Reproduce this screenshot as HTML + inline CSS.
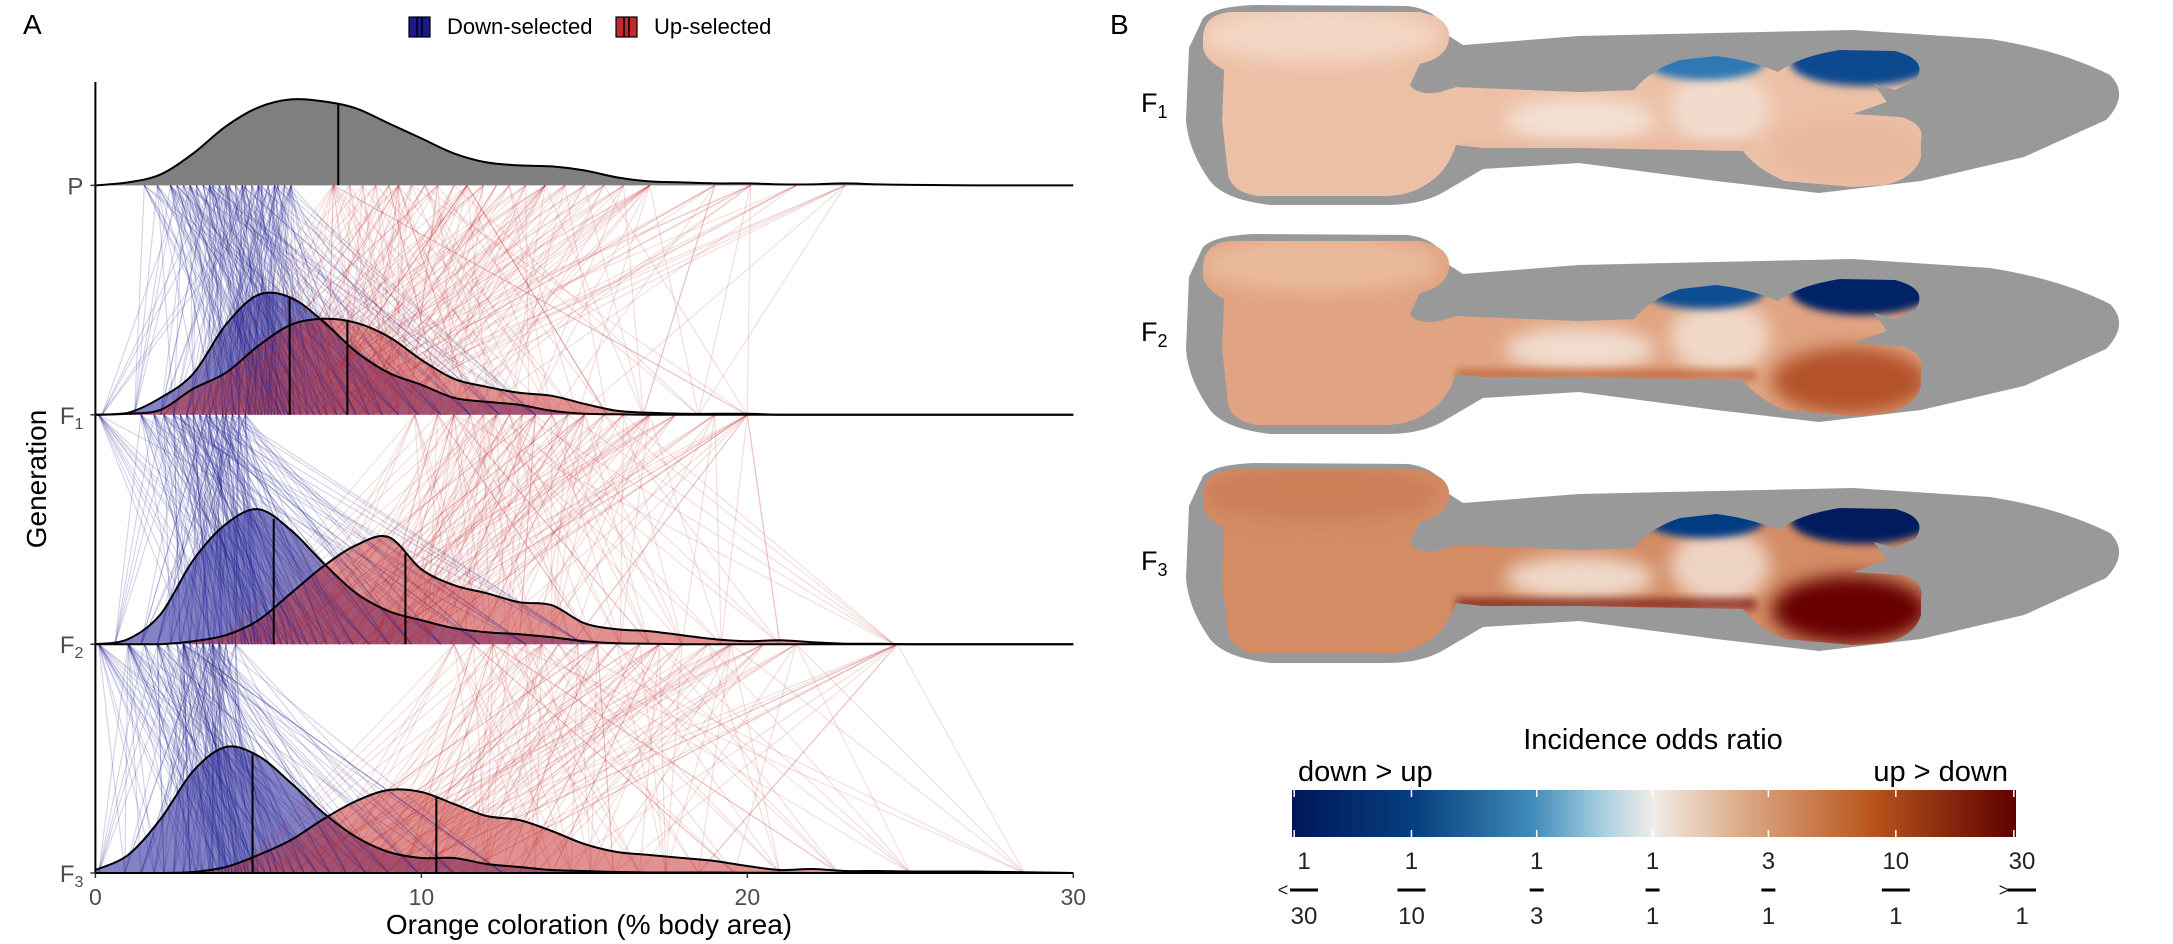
<!DOCTYPE html>
<html><head><meta charset="utf-8"><style>
html,body{margin:0;padding:0;background:#fff;}
svg{display:block;font-family:"Liberation Sans",Arial,sans-serif;}
</style></head><body>
<svg id="fig" width="2173" height="944" viewBox="0 0 2173 944">
<defs>
  <linearGradient id="cbar" x1="0" x2="1" y1="0" y2="0">
    <stop offset="0" stop-color="#00165a"/>
    <stop offset="0.17" stop-color="#073f7e"/>
    <stop offset="0.33" stop-color="#3f8ab8"/>
    <stop offset="0.43" stop-color="#a9cfe0"/>
    <stop offset="0.5" stop-color="#f2ede8"/>
    <stop offset="0.62" stop-color="#dcaa88"/>
    <stop offset="0.8" stop-color="#b9561e"/>
    <stop offset="1" stop-color="#5e0000"/>
  </linearGradient>
  <filter id="blur" x="-50%" y="-50%" width="200%" height="200%"><feGaussianBlur stdDeviation="9"/></filter>
  <filter id="blur2" x="-50%" y="-50%" width="200%" height="200%"><feGaussianBlur stdDeviation="4"/></filter>
  <path id="silhouette" d="M1203,18 Q1215,6 1257,5 L1408,6 Q1440,10 1449,36 L1463,45 L1579,36 L1853,30 L1990,39 Q2060,50 2110,75 Q2130,95 2106,120 L2024,157 L1921,181 L1819,193 L1716,181 L1579,163 L1483,169 L1442,193 Q1420,205 1387,205 L1271,205 Q1225,200 1210,181 Q1188,150 1186,120 L1189,48 Z"/>
  <path id="bodyshape" d="M1203,36 Q1205,14 1230,12 L1420,12 Q1452,18 1449,40 Q1446,58 1420,64 L1410,85 Q1418,96 1440,92 L1456,87 L1580,92 L1634,90 Q1650,70 1680,60 L1716,56 Q1750,60 1778,72 Q1800,56 1840,50 L1895,51 Q1930,60 1915,81 L1895,90 L1874,84 L1887,102 L1853,114 L1901,117 Q1925,124 1921,140 L1921,157 Q1915,178 1885,185 L1853,187 L1784,181 Q1755,168 1743,151 L1579,148 L1483,148 L1456,145 Q1448,170 1430,182 Q1410,196 1387,196 L1257,196 Q1232,192 1228,175 L1222,120 L1224,70 Q1205,60 1203,48 Z"/>
  <clipPath id="bodyclip"><use href="#bodyshape"/></clipPath>
</defs>

<!-- Panel A -->
<text x="23" y="34" font-size="28" fill="#000">A</text>
<g>
  <rect x="409" y="17" width="21" height="20" fill="#1a1a8c" stroke="#000" stroke-width="1.2"/>
  <line x1="417" y1="17" x2="417" y2="37" stroke="#000" stroke-width="1.5"/><line x1="422" y1="17" x2="422" y2="37" stroke="#000" stroke-width="1.5"/>
  <text x="447" y="34" font-size="22" fill="#000">Down-selected</text>
  <rect x="616" y="17" width="21" height="20" fill="#c02a2a" stroke="#000" stroke-width="1.2"/>
  <line x1="624" y1="17" x2="624" y2="37" stroke="#000" stroke-width="1.5"/><line x1="629" y1="17" x2="629" y2="37" stroke="#000" stroke-width="1.5"/>
  <text x="654" y="34" font-size="22" fill="#000">Up-selected</text>
</g>
<g id="chartA"></g>
<text transform="translate(46,479) rotate(-90)" text-anchor="middle" font-size="28" fill="#000">Generation</text>
<text x="589" y="934" text-anchor="middle" font-size="28" fill="#000">Orange coloration (% body area)</text>

<!-- Panel B -->
<text x="1110" y="34" font-size="28" fill="#000">B</text>
<g id="bodies"></g>
<g>
  <text x="1653" y="749" text-anchor="middle" font-size="29" fill="#000">Incidence odds ratio</text>
  <text x="1298" y="781" font-size="29" fill="#000">down &gt; up</text>
  <text x="2008" y="781" text-anchor="end" font-size="29" fill="#000">up &gt; down</text>
  <rect x="1292" y="790" width="724" height="47" fill="url(#cbar)"/>
  <g id="cbticks"></g>
</g>
</svg>
<script>
// ---------- Panel A data ----------
const xGrid = [0,1,2,3,4,5,6,7,8,9,10,11,12,13,14,15,16,17,18,19,20,21,22,23,24,25,26,27,28,29,30];
const densP      = [0,3,11,32,59,78,86,84,77,62,47,32,23,20,19,15,8,4,3,2,2,1,1,2,1,0.5,0.3,0,0,0,0];
const densF1Down = [0,2,17,41,90,120,117,93,63,42,30,17,13,10,4,1,0.5,0,0,0,0,0,0,0,0,0,0,0,0,0,0];
const densF1Up   = [0,1,5,26,42,69,90,96,92,78,55,36,28,22,19,11,4,2,1,1,1,0,0,0,0,0,0,0,0,0,0];
const densF2Down = [0,5,30,84,120,135,114,81,51,33,24,16,12,10,7,3,1,0.5,0,0,0,0,0,0,0,0,0,0,0,0,0];
const densF2Up   = [0,0,0,3,9,24,51,78,99,107,75,59,51,42,39,21,15,13,9,5,3,4,2,0.5,0.5,0,0,0,0,0,0];
const densF3Down = [3,18,54,102,126,117,90,60,36,21,15,15,9,6,3,2,1,0.5,0.5,0.5,0.3,0.2,0,0,0,0,0,0,0,0,0];
const densF3Up   = [0,0,0,1,6,18,33,54,72,83,81,69,57,53,42,29,21,18,15,12,7,3,4,2,2,1.5,1.5,1.5,1,0.5,0];
const medians = {P:7.45, F1Down:5.96, F1Up:7.73, F2Down:5.47, F2Up:9.51, F3Down:4.82, F3Up:10.46};

const selPDown  = [1.5,1.9,2.3,2.5,2.7,2.9,3.1,3.3,3.5,3.6,3.8,4.0,4.1,4.3,4.5,4.6,4.8,5.0,5.1,5.3,5.5,5.6,5.8,6.0];
const offF1Down = [1.2,2.0,2.4,2.8,3.0,3.3,3.5,3.7,3.9,4.0,4.2,4.3,4.4,4.6,4.7,4.8,4.9,5.0,5.1,5.2,5.3,5.4,5.5,5.6,5.7,5.8,5.9,6.0,6.1,6.3,6.5,6.7,6.9,7.1,7.4,7.7,8.0,8.4,8.8,9.3,9.9,10.6,11.5,12.4,13.5,0.2];
const selPUp    = [7.3,7.8,8.2,8.6,9.0,9.3,9.7,10.1,10.5,11.0,11.4,11.9,12.3,12.7,13.2,13.8,14.4,15.0,15.6,16.2,17.0,19.0,20.1,21.5,23.0];
const offF1Up   = [2.1,2.9,3.4,3.9,4.3,4.7,5.0,5.3,5.6,5.9,6.1,6.3,6.5,6.7,6.9,7.1,7.3,7.5,7.7,7.9,8.1,8.3,8.5,8.8,9.0,9.3,9.6,9.9,10.3,10.7,11.1,11.6,12.1,12.7,13.3,14.0,14.8,15.7,16.8,18.5,20.0];
const selF1Down = [1.4,1.8,2.1,2.4,2.6,2.8,3.0,3.2,3.4,3.5,3.7,3.9,4.0,4.2,4.4,4.6,0.1];
const offF2Down = [0.6,1.4,1.9,2.3,2.6,2.9,3.1,3.3,3.5,3.6,3.8,3.9,4.1,4.2,4.3,4.5,4.6,4.7,4.8,4.9,5.0,5.1,5.3,5.4,5.5,5.7,5.9,6.1,6.3,6.5,6.8,7.1,7.5,7.9,8.4,9.0,9.7,10.6,11.8,13.2,15.0];
const selF1Up   = [9.8,10.5,11.0,11.5,11.9,12.3,12.7,13.1,13.5,14.0,14.5,15.0,15.6,16.2,17.0,17.8,19.0,20.0];
const offF2Up   = [3.8,4.8,5.5,6.0,6.5,6.9,7.3,7.6,7.9,8.2,8.4,8.6,8.8,9.0,9.2,9.4,9.6,9.9,10.2,10.5,10.9,11.3,11.7,12.1,12.6,13.0,13.5,14.0,14.6,15.3,16.1,17.0,18.0,19.2,21.0,24.5];
const selF2Down = [1.0,1.5,1.9,2.2,2.5,2.7,2.9,3.1,3.3,3.5,3.6,3.8,4.0,4.3,0.1];
const offF3Down = [0.1,0.9,1.4,1.8,2.1,2.4,2.7,2.9,3.1,3.3,3.5,3.6,3.8,3.9,4.0,4.1,4.2,4.3,4.4,4.5,4.6,4.7,4.9,5.0,5.2,5.4,5.6,5.8,6.1,6.4,6.8,7.2,7.7,8.3,9.0,9.9,11.0,12.5];
const selF2Up   = [11.0,11.6,12.2,12.7,13.2,13.7,14.2,14.8,15.4,16.0,16.7,17.3,18.0,18.8,19.5,20.5,21.5,24.6];
const offF3Up   = [4.3,5.3,6.0,6.6,7.1,7.5,7.9,8.3,8.6,8.9,9.2,9.5,9.8,10.1,10.4,10.8,11.2,11.6,12.0,12.5,13.0,13.5,14.0,14.6,15.2,15.9,16.7,17.5,18.5,19.6,21.0,22.8,25.0,28.5];

const genLabels = ['P','F1','F2','F3'];
const xTicks = [0,10,20,30];

const NS='http://www.w3.org/2000/svg';
const X0=95.4, X1=1073.3, XMAX=30;
const baselines=[185.4,414.8,644.2,873];
const xs = v => X0 + (X1-X0)*v/XMAX;
const hs = d => d;
function mk(tag, attrs, parent){const e=document.createElementNS(NS,tag);for(const k in attrs)e.setAttribute(k,attrs[k]);parent.appendChild(e);return e;}
const A=document.getElementById('chartA');

function curvePath(dens, base){
  const pts=xGrid.map((x,i)=>[xs(x), base-hs(dens[i])]);
  let d='M'+pts[0][0]+','+pts[0][1];
  for(let i=0;i<pts.length-1;i++){
    const p0=pts[Math.max(0,i-1)],p1=pts[i],p2=pts[i+1],p3=pts[Math.min(pts.length-1,i+2)];
    const c1=[p1[0]+(p2[0]-p0[0])/6, Math.min(base,p1[1]+(p2[1]-p0[1])/6)];
    const c2=[p2[0]-(p3[0]-p1[0])/6, Math.min(base,p2[1]-(p3[1]-p1[1])/6)];
    d+=` C${c1[0]},${c1[1]} ${c2[0]},${c2[1]} ${p2[0]},${p2[1]}`;
  }
  return d;
}
function heightAt(dens,v){const i=Math.min(Math.floor(v),29);const t=v-i;return dens[i]*(1-t)+dens[i+1]*t;}

function drawDensity(dens, base, fill, op, name){
  const c=curvePath(dens,base);
  const f=mk('path',{d:c+` L${xs(30)},${base} L${xs(0)},${base} Z`,fill:fill,'fill-opacity':op,stroke:'none'},A);
  
  
}
function drawOutline(dens, base, med, name){
  const o=mk('path',{d:curvePath(dens,base),fill:'none',stroke:'#000','stroke-width':2},A);
  
  
  const m=mk('line',{x1:xs(med),x2:xs(med),y1:base,y2:base-hs(heightAt(dens,med)),stroke:'#000','stroke-width':2},A);
  
  
}
function drawLinks(sel, off, yTop, yBot, color, op, name){
  const g=mk('g',{},A);
  
  
  const n=sel.length;
  off.forEach((v,i)=>{
    [sel[(i*5)%n], sel[(i*11+3)%n], sel[(i*7+1)%n], sel[(i*3+5)%n], sel[(i*13+2)%n]].forEach(p=>{
      mk('line',{x1:xs(p),y1:yTop,x2:xs(v),y2:yBot,stroke:color,'stroke-opacity':op,'stroke-width':1.1},g);
    });
  });
}

drawDensity(densP, baselines[0], '#7f7f7f', 1, 'density-p');
drawDensity(densF1Down, baselines[1], '#1c1c96', 0.55, 'density-f1-down');
drawDensity(densF1Up, baselines[1], '#c42424', 0.5, 'density-f1-up');
drawDensity(densF2Down, baselines[2], '#1c1c96', 0.55, 'density-f2-down');
drawDensity(densF2Up, baselines[2], '#c42424', 0.5, 'density-f2-up');
drawDensity(densF3Down, baselines[3], '#1c1c96', 0.55, 'density-f3-down');
drawDensity(densF3Up, baselines[3], '#c42424', 0.5, 'density-f3-up');
drawLinks(selPDown, offF1Down, baselines[0], baselines[1], '#1a1a8c', 0.2, 'links-f1-down');
drawLinks(selPUp, offF1Up, baselines[0], baselines[1], '#c02828', 0.17, 'links-f1-up');
drawLinks(selF1Down, offF2Down, baselines[1], baselines[2], '#1a1a8c', 0.2, 'links-f2-down');
drawLinks(selF1Up, offF2Up, baselines[1], baselines[2], '#c02828', 0.17, 'links-f2-up');
drawLinks(selF2Down, offF3Down, baselines[2], baselines[3], '#1a1a8c', 0.2, 'links-f3-down');
drawLinks(selF2Up, offF3Up, baselines[2], baselines[3], '#c02828', 0.17, 'links-f3-up');
drawOutline(densP, baselines[0], medians.P, 'density-p');
drawOutline(densF1Down, baselines[1], medians.F1Down, 'density-f1-down');
drawOutline(densF1Up, baselines[1], medians.F1Up, 'density-f1-up');
drawOutline(densF2Down, baselines[2], medians.F2Down, 'density-f2-down');
drawOutline(densF2Up, baselines[2], medians.F2Up, 'density-f2-up');
drawOutline(densF3Down, baselines[3], medians.F3Down, 'density-f3-down');
drawOutline(densF3Up, baselines[3], medians.F3Up, 'density-f3-up');

const ya=mk('line',{x1:X0,x2:X0,y1:82,y2:baselines[3],stroke:'#000','stroke-width':2},A);


const xa=mk('line',{x1:X0,x2:X1,y1:baselines[3],y2:baselines[3],stroke:'#000','stroke-width':2},A);


genLabels.forEach((lab,i)=>{
  const y=baselines[i];
  mk('line',{x1:X0-5,x2:X0,y1:y,y2:y,stroke:'#333','stroke-width':1.5},A);
  const t=mk('text',{x:X0-12,y:y+9,'text-anchor':'end','font-size':24,fill:'#4d4d4d'},A);
  
  
  t.textContent=lab[0];
  if(lab.length>1){const s=mk('tspan',{'font-size':16,dy:5},t);s.textContent=lab.slice(1);}
});
xTicks.forEach(v=>{
  mk('line',{x1:xs(v),x2:xs(v),y1:baselines[3],y2:baselines[3]+5,stroke:'#333','stroke-width':1.5},A);
  const t=mk('text',{x:xs(v),y:905,'text-anchor':'middle','font-size':23,fill:'#4d4d4d'},A);
  
  
  t.textContent=v;
});

// ---------- Panel B ----------
const B=document.getElementById('bodies');
const rowOffsets=[0,229,458];
const rowLabels=['F1','F2','F3'];
const baseCols=['#ecc0a6','#e0a482','#d38c64'];
const headCols=['#f3d6c4','#eab99c','#cc7e56'];
const blueA=['#2e78b4','#0e4e92','#063a84'];
const blueB=['#0e4a8e','#002466','#001c5e'];
const lowTail=['#e9b89e','#b4532a','#680404'];
rowOffsets.forEach((dy,i)=>{
  const g=mk('g',{transform:`translate(0,${dy})`},B);
  
  
  mk('use',{href:'#silhouette',fill:'#999999'},g);
  const c=mk('g',{'clip-path':'url(#bodyclip)'},g);
  mk('use',{href:'#bodyshape',fill:baseCols[i]},c);
  mk('ellipse',{cx:1320,cy:35,rx:120,ry:28,fill:headCols[i],filter:'url(#blur)'},c);
  mk('ellipse',{cx:1580,cy:120,rx:75,ry:22,fill:'#f5e6dc',filter:'url(#blur)','fill-opacity':0.85},c);
  mk('ellipse',{cx:1720,cy:108,rx:50,ry:38,fill:'#f3e0d4',filter:'url(#blur)','fill-opacity':0.85},c);
  mk('ellipse',{cx:1705,cy:62,rx:60,ry:18,fill:blueA[i],filter:'url(#blur2)'},c);
  mk('ellipse',{cx:1862,cy:62,rx:72,ry:24,fill:blueB[i],filter:'url(#blur2)'},c);
  mk('ellipse',{cx:1850,cy:152,rx:78,ry:34,fill:lowTail[i],filter:'url(#blur)'},c);
  mk('rect',{x:1456,y:140,width:300,height:12,fill:lowTail[i],'fill-opacity':0.6,filter:'url(#blur2)'},c);
  const t=mk('text',{x:1141,y:112,'font-size':27,fill:'#000'},g);
  
  
  t.textContent='F';
  const s=mk('tspan',{'font-size':18,dy:6},t);s.textContent=rowLabels[i].slice(1);
});

// colorbar ticks
const cbNum=['1','1','1','1','3','10','30'];
const cbDen=['30','10','3','1','1','1','1'];
const cbFrac=[0.003,0.165,0.338,0.498,0.658,0.834,0.997];
const CB0=1292, CBW=724;
const CT=document.getElementById('cbticks');
cbFrac.forEach((f,i)=>{
  const x=CB0+CBW*f;
  mk('line',{x1:x,x2:x,y1:790,y2:797,stroke:'#fff','stroke-width':1.5},CT);
  mk('line',{x1:x,x2:x,y1:830,y2:837,stroke:'#fff','stroke-width':1.5},CT);
  const lx = i===0 ? 1304 : (i===6 ? 2022 : x);
  const n=mk('text',{x:lx,y:869,'text-anchor':'middle','font-size':24,fill:'#222'},CT);
  
  
  n.textContent=cbNum[i];
  const w = (cbNum[i].length>1||cbDen[i].length>1)?28:14;
  mk('line',{x1:lx-w/2,x2:lx+w/2,y1:890,y2:890,stroke:'#000','stroke-width':3},CT);
  const d=mk('text',{x:lx,y:924,'text-anchor':'middle','font-size':24,fill:'#222'},CT);
  
  
  d.textContent=cbDen[i];
});
const lt=mk('text',{x:1283,y:896,'text-anchor':'middle','font-size':18,fill:'#222'},CT);lt.textContent='<';
const gt=mk('text',{x:2004,y:896,'text-anchor':'middle','font-size':18,fill:'#222'},CT);gt.textContent='>';
</script>
</body></html>
